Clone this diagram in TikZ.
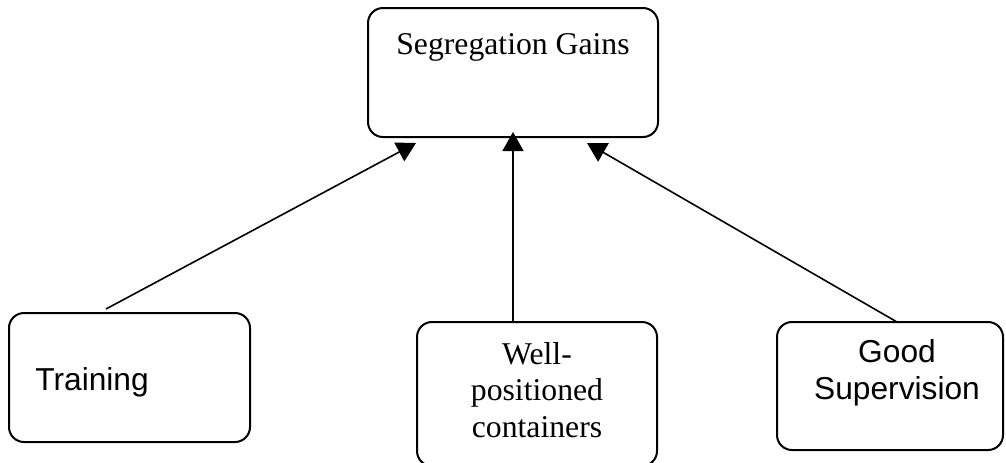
\documentclass[tikz,border=0pt]{standalone}
\usepackage{fontspec}
\setmainfont{Liberation Serif}
\newfontfamily\arialfont{Liberation Sans}
\usetikzlibrary{arrows.meta,calc}
\begin{document}
\begin{tikzpicture}[x = .5pt, y = -.5pt, >={Triangle[length = 9.5pt, width = 10.5pt]},
	box/.style = {rectangle, draw = black, line width = 1pt, rounded corners = 7.5pt, inner sep = 0pt, outer sep = 0pt},
	link/.style = {->, line width = .8pt},
	sans/.style = {font = \arialfont\fontsize{15.85}{18.5}\selectfont},
	every label/.style = {inner sep = 0pt, font = \fontsize{15.85}{18.2}\selectfont, align = center}]
	%	\draw[gray!50] (0,0) grid[step = 50pt] (1006,462);
	\useasboundingbox (0,0) rectangle (1006,462);
	
	\node[box, minimum width = 145pt, minimum height = 64.5pt, label = {[yshift = 12.5pt]center:Segregation Gains}] (gains) at (513,72.5) {};
	\node[box, minimum width = 120.5pt, minimum height = 64.5pt, label = {[sans, anchor = west, xshift = 13pt, yshift = -2.6pt]west:Training}] (train) at (129.5,377.5) {};
	\node[box, minimum width = 120pt, minimum height = 72pt, label = {[yshift = 2pt]center:Well-\\positioned\\containers}] (wpc) at (537,394) {};
	\node[box, minimum width = 113pt, minimum height = 64pt, label = {[sans, xshift = 3.5pt, yshift = 6.5pt]center:Good\\Supervision}] (super) at (890,386) {};
	
	\draw[link] ($(train.north)+(-23.5,-4)$) -- ($(gains.south)+(-97,6)$);
	\draw[link] (gains.south |- wpc.north) -- ($(gains.south)+(0,-5)$);
	\draw[link] ($(super.north)+(7,0)$) -- ($(gains.south)+(74,6)$);
\end{tikzpicture}
\end{document}
